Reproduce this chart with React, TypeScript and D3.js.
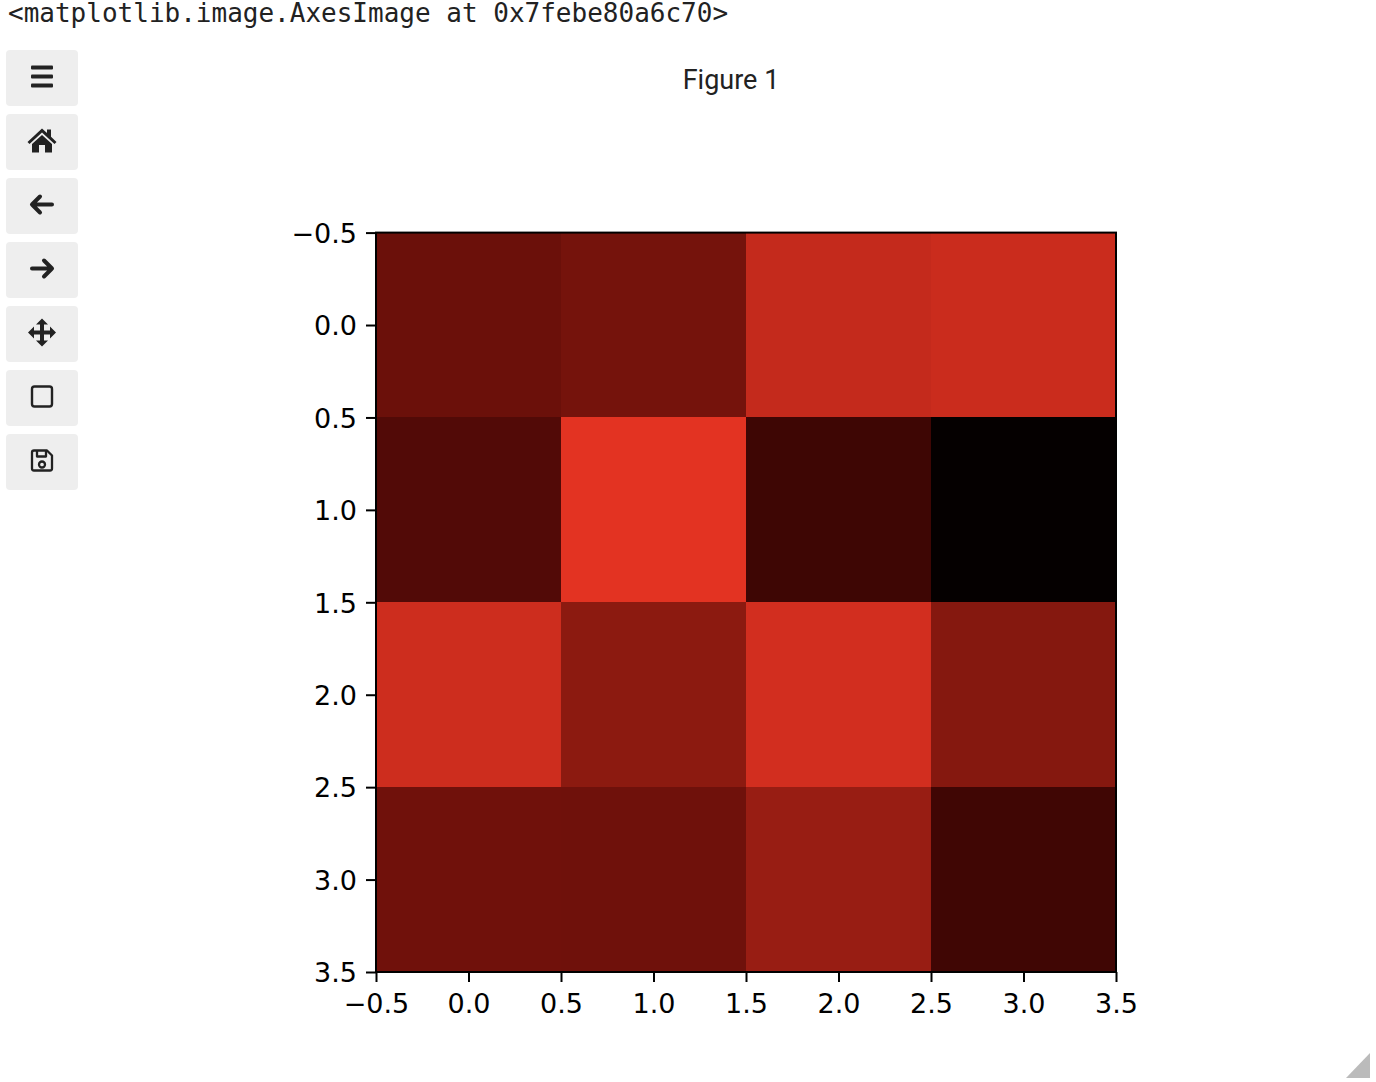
import React, { useEffect, useRef } from 'react';
import * as d3 from 'd3';

// image values, one row per y index (0 = darkest, 1 = brightest)
const row0 = [0.467, 0.513, 0.864, 0.89];
const row1 = [0.361, 1, 0.269, 0];
const row2 = [0.903, 0.617, 0.925, 0.586];
const row3 = [0.489, 0.487, 0.67, 0.28];
const rows = [row0, row1, row2, row3];

const colorStops = [0, 0.28, 0.5, 1];
const colorRange = ['#050000', '#400604', '#72120b', '#e33322'];

const tickValues = [-0.5, 0, 0.5, 1, 1.5, 2, 2.5, 3, 3.5];
const outputText = '<matplotlib.image.AxesImage at 0x7febe80a6c70>';
const figureTitle = 'Figure 1';

const toolButtons = ['menu', 'home', 'back', 'forward', 'move', 'zoom', 'save'];

const FONT = '"DejaVu Sans", sans-serif';

const ToolIcon = ({ name }: { name: string }) => {
  const ink = '#222';
  if (name === 'menu') {
    return (
      <g fill={ink}>
        <rect x={-11} y={-11} width={22} height={4} rx={1} />
        <rect x={-11} y={-2} width={22} height={4} rx={1} />
        <rect x={-11} y={7} width={22} height={4} rx={1} />
      </g>
    );
  }
  if (name === 'home') {
    return (
      <g fill={ink}>
        <path d="M-14.5,1.5 L0,-12 L5,-7.5 L5,-11 L9,-11 L9,-3.8 L14.5,1.5 L12.5,3.5 L0,-8 L-12.5,3.5 Z" />
        <path d="M-10,3.5 L0,-5.5 L10,3.5 L10,12 L3,12 L3,4.5 L-3,4.5 L-3,12 L-10,12 Z" />
      </g>
    );
  }
  if (name === 'back' || name === 'forward') {
    const d = name === 'back' ? 'M10,0 L-10,0 M-2,-8 L-10,0 L-2,8' : 'M-10,0 L10,0 M2,-8 L10,0 L2,8';
    return <path d={d} fill="none" stroke={ink} strokeWidth={4} strokeLinecap="round" strokeLinejoin="round" />;
  }
  if (name === 'move') {
    return (
      <g fill={ink}>
        <path d="M-2,-9 H2 V-2 H9 V2 H2 V9 H-2 V2 H-9 V-2 H-2 Z" />
        <path d="M0,-14 L6,-8 H-6 Z M0,14 L6,8 H-6 Z M-14,0 L-8,-6 V6 Z M14,0 L8,-6 V6 Z" />
      </g>
    );
  }
  if (name === 'zoom') {
    return <rect x={-10} y={-10} width={20} height={20} rx={2.5} fill="none" stroke={ink} strokeWidth={2.4} />;
  }
  return (
    <g fill="none" stroke={ink} strokeWidth={2.3} strokeLinejoin="round">
      <path d="M-8,-10 H5 L10,-5 V8 Q10,10 8,10 H-8 Q-10,10 -10,8 V-8 Q-10,-10 -8,-10 Z" />
      <path d="M-5,-10 V-4 H4 V-10" />
      <circle cx={0} cy={4} r={3} />
    </g>
  );
};

const App = () => {
  const svgRef = useRef<SVGSVGElement>(null);

  useEffect(() => {
    if (!svgRef.current) return;
    const svg = d3.select(svgRef.current);
    svg.selectAll('.plot').remove();

    const left = 376;
    const right = 1116;
    const top = 232.6;
    const bottom = 972;

    const x = d3.scaleLinear().domain([-0.5, 3.5]).range([left, right]);
    const y = d3.scaleLinear().domain([-0.5, 3.5]).range([top, bottom]);
    const color = d3.scaleLinear<string>().domain(colorStops).range(colorRange);

    const g = svg.append('g').attr('class', 'plot');

    rows.forEach((row, r) => {
      g.selectAll(`rect.r${r}`)
        .data(row)
        .enter()
        .append('rect')
        .attr('class', `r${r}`)
        .attr('x', (_, c) => x(c - 0.5))
        .attr('y', y(r - 0.5))
        .attr('width', x(1) - x(0))
        .attr('height', y(1) - y(0))
        .attr('shape-rendering', 'crispEdges')
        .attr('fill', (d) => color(d));
    });

    const fmt = (d: d3.NumberValue) => d3.format('.1f')(d as number).replace('-', '\u2212');

    const xAxis = g
      .append('g')
      .attr('transform', `translate(0,${bottom})`)
      .call(d3.axisBottom(x).tickValues(tickValues).tickFormat(fmt).tickSize(10).tickPadding(12));
    const yAxis = g
      .append('g')
      .attr('transform', `translate(${left},0)`)
      .call(d3.axisLeft(y).tickValues(tickValues).tickFormat(fmt).tickSize(10).tickPadding(9));

    [xAxis, yAxis].forEach((a) => {
      a.select('.domain').remove();
      a.selectAll('line').attr('stroke', '#000').attr('stroke-width', 2);
      a.selectAll('text').attr('fill', '#000').attr('font-family', FONT).attr('font-size', 27);
    });
    // y labels sit a pixel lower than their ticks
    yAxis.selectAll('text').attr('dy', '0.36em');

    g.append('rect')
      .attr('x', left)
      .attr('y', top)
      .attr('width', right - left)
      .attr('height', bottom - top)
      .attr('fill', 'none')
      .attr('stroke', '#000')
      .attr('stroke-width', 2);
  }, []);

  return (
    <svg
      ref={svgRef}
      width={1376}
      height={1082}
      style={{ position: 'absolute', left: 0, top: 0, background: '#fff' }}
    >
      <text x={8} y={22} fontFamily='"DejaVu Sans Mono", monospace' fontSize={26} fill="#222">
        {outputText}
      </text>
      <text x={731} y={88.5} textAnchor="middle" fontFamily="Roboto, sans-serif" fontSize={27} fill="#222">
        {figureTitle}
      </text>
      {toolButtons.map((name, i) => (
        <g key={name} transform={`translate(6,${50 + i * 64})`}>
          <rect width={72} height={56} rx={4} fill="#eeeeee" />
          <g transform="translate(36,26.5)">
            <ToolIcon name={name} />
          </g>
        </g>
      ))}
      <path d="M1346,1078 L1370,1053 V1078 Z" fill="#bbbbbb" />
    </svg>
  );
};

export default App;
